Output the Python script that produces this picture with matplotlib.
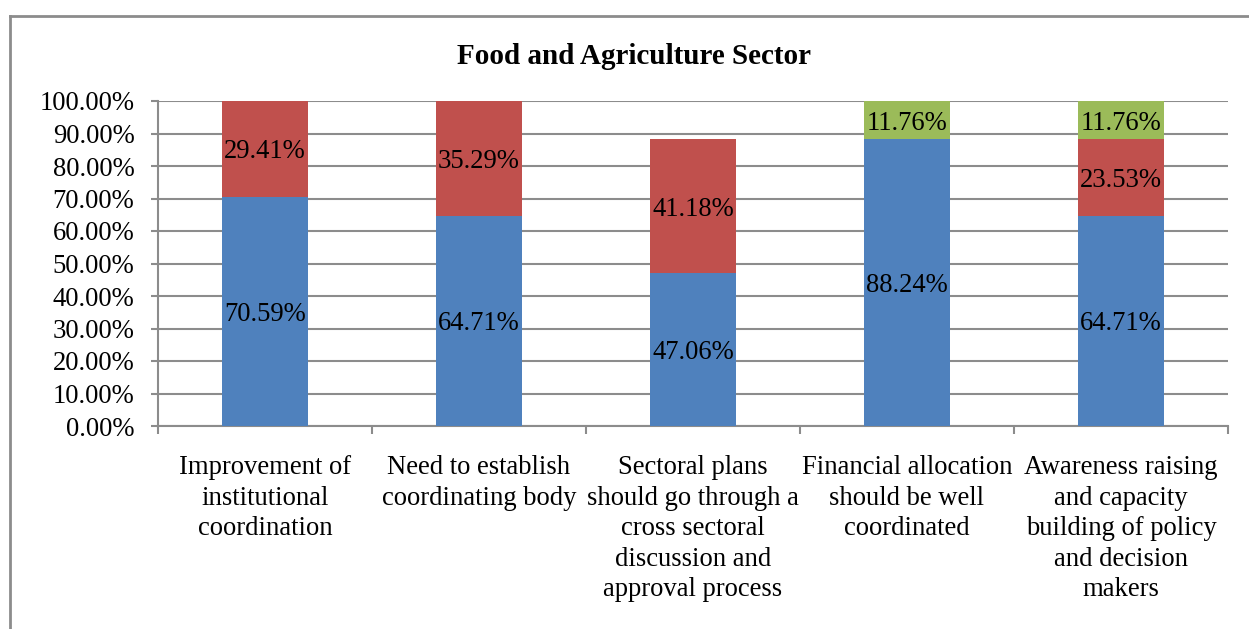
import matplotlib.pyplot as plt
from matplotlib.lines import Line2D
import numpy as np

plt.rcParams['font.family'] = ['Liberation Serif', 'DejaVu Serif']

categories = [
    "Improvement of\ninstitutional\ncoordination",
    "Need to establish\ncoordinating body",
    "Sectoral plans\nshould go through a\ncross sectoral\ndiscussion and\napproval process",
    "Financial allocation\nshould be well\ncoordinated",
    "Awareness raising\nand capacity\nbuilding of policy\nand decision\nmakers",
]
blue_vals = [70.59, 64.71, 47.06, 88.24, 64.71]
red_vals = [29.41, 35.29, 41.18, 0.0, 23.53]
green_vals = [0.0, 0.0, 0.0, 11.76, 11.76]
yticks = [0, 10, 20, 30, 40, 50, 60, 70, 80, 90, 100]

colors = ["#4F81BD", "#C0504D", "#9BBB59"]
grid_color = "#8C8C8C"
fs = 19.2

fig = plt.figure(figsize=(12.49, 6.29), dpi=100)
ax = fig.add_axes([158 / 1249, 1 - 426 / 629, (1228 - 158) / 1249, (426 - 101) / 629])

x = np.arange(len(categories))
width = 0.40
bottom = np.zeros(len(categories))
for vals, col in zip([blue_vals, red_vals, green_vals], colors):
    vals = np.array(vals)
    ax.bar(x, vals, width, bottom=bottom, color=col, zorder=3)
    for xi, b, v in zip(x, bottom, vals):
        if v > 0:
            ax.text(xi, b + v / 2, f"{v:.2f}%", ha="center", va="center_baseline",
                    fontsize=fs, color="black", zorder=4)
    bottom = bottom + vals

ax.set_xlim(-0.5, len(categories) - 0.5)
ax.set_ylim(0, 100)
ax.set_yticks(yticks)
ax.set_yticklabels([f"{t:.2f}%" for t in yticks], fontsize=fs)
ax.yaxis.grid(True, color=grid_color, linewidth=1.5, zorder=0)
ax.set_axisbelow(True)

ax.set_xticks(x)
ax.set_xticklabels(categories, fontsize=fs, linespacing=1.29, va="top")
ax.tick_params(axis="x", length=0, pad=21)
ax.set_xticks(np.arange(-0.5, len(categories), 1.0), minor=True)
ax.tick_params(axis="x", which="minor", length=6, width=1.5, color=grid_color)
ax.tick_params(axis="y", length=5, width=1.5, color=grid_color, pad=12)

for s in ["top", "right"]:
    ax.spines[s].set_visible(False)
for s in ["left", "bottom"]:
    ax.spines[s].set_color(grid_color)
    ax.spines[s].set_linewidth(1.5)

fig.text(634 / 1249, 1 - 56 / 629, "Food and Agriculture Sector", ha="center",
         va="center", fontsize=21, fontweight="bold")

# outer chart frame (left and top edges)
fx = 10 / 1249
fy = 1 - 16 / 629
fig.add_artist(Line2D([fx, fx], [0, fy], transform=fig.transFigure,
                      color="#8C8C8C", linewidth=2))
fig.add_artist(Line2D([fx, 1], [fy, fy], transform=fig.transFigure,
                      color="#8C8C8C", linewidth=2))

fig.savefig("out.png", dpi=100)
